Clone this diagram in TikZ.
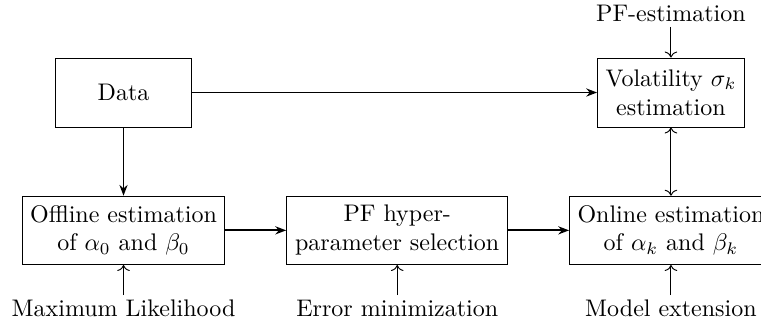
\documentclass[tikz,border=0pt]{standalone}
\usepackage{tikz}
\usetikzlibrary{arrows.meta, positioning}

\begin{document}
\begin{tikzpicture}[
    node distance=1.0cm and 0.89cm,
    blk/.style={rectangle, draw, align=center, minimum width=2.97cm,
                minimum height=1.0cm, inner sep=3pt},
    inp/.style={inner sep=2pt},
    arr/.style={-{Stealth[length=4.5pt]}, thick},
    thinArr/.style={-{To[length=2.5pt]}},
]
\useasboundingbox (0,0) rectangle (11.146,-4.819);

\node[blk, minimum width=2.0cm, minimum height=1.01cm] (data) at (1.809,-1.355) {Data};
\node[blk, below=of data] (offline) {Offline estimation\\of $\alpha_0$ and $\beta_0$};
\node[blk, right=of offline, minimum width=3.24cm] (pfsel) {PF hyper-\\parameter selection};
\node[blk, right=of pfsel] (online) {Online estimation\\of $\alpha_k$ and $\beta_k$};
\node[blk, above=of online, minimum width=2.15cm, minimum height=1.01cm] (vol)
    {Volatility $\sigma_k$\\estimation};

\node[inp, below=0.44cm of offline] (ml) {Maximum Likelihood};
\node[inp, below=0.44cm of pfsel] (errmin) {Error minimization};
\node[inp, below=0.44cm of online] (modext) {Model extension};
\node[inp, above=0.45cm of vol] (pfest) {PF-estimation};

\draw[arr] (data) -- (offline);
\draw[arr] (data.east) -- (vol.west);
\draw[arr] (offline) -- (pfsel);
\draw[arr] (pfsel) -- (online);
\draw[{To[length=2.5pt]}-{To[length=2.5pt]}] (vol) -- (online);

\draw[thinArr] (ml) -- (offline);
\draw[thinArr] (errmin) -- (pfsel);
\draw[thinArr] (modext) -- (online);
\draw[thinArr] (pfest) -- (vol);
\end{tikzpicture}
\end{document}
